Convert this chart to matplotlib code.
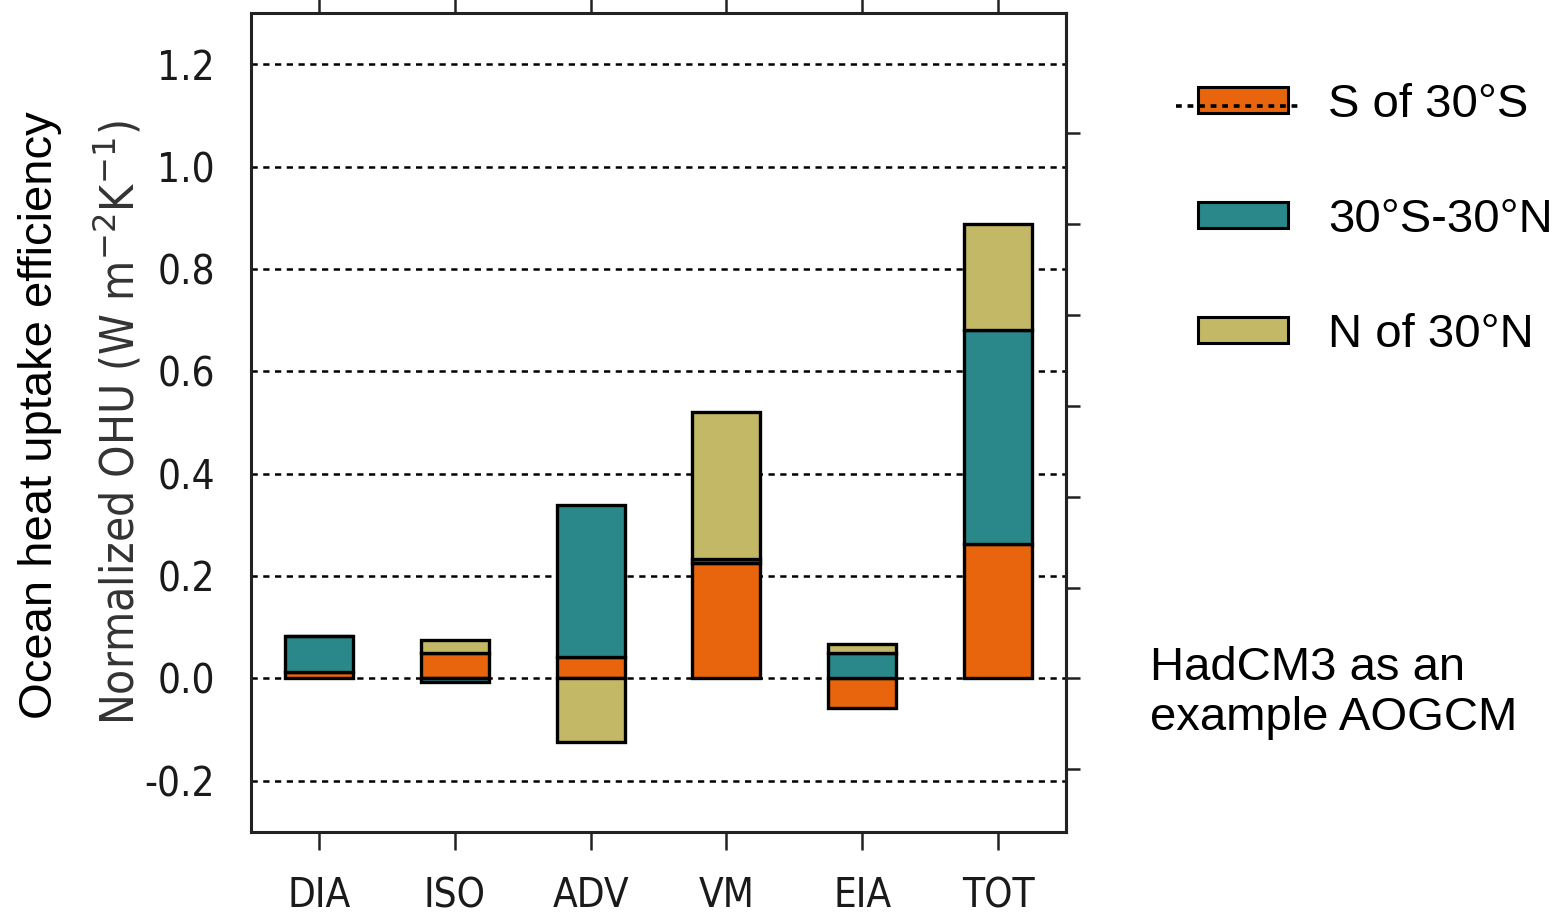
import matplotlib
matplotlib.use("Agg")
import matplotlib.pyplot as plt
import numpy as np
from matplotlib import font_manager
from matplotlib.font_manager import FontProperties
from matplotlib.patches import Patch, Rectangle
from matplotlib.lines import Line2D
from matplotlib.legend_handler import HandlerBase

# Normalized ocean heat uptake by process, split by latitude band
categories = ["DIA", "ISO", "ADV", "VM", "EIA", "TOT"]
south_of_30s = [0.012, 0.050, 0.042, 0.226, -0.057, 0.262]
band_30s_30n = [0.070, -0.007, 0.296, 0.008, 0.049, 0.419]
north_of_30n = [0.000, 0.025, -0.125, 0.287, 0.019, 0.207]

series_labels = ["S of 30°S", "30°S-30°N", "N of 30°N"]
series_colors = ["#E8650D", "#2A878A", "#C2B866"]

ytick_values = [-0.2, 0.0, 0.2, 0.4, 0.6, 0.8, 1.0, 1.2]
ytick_labels = ["-0.2", "0.0", "0.2", "0.4", "0.6", "0.8", "1.0", "1.2"]


def find_condensed():
    """Pick an installed condensed/narrow sans face, if there is one."""
    best = None
    for f in font_manager.fontManager.ttflist:
        st = f.stretch
        if isinstance(st, str):
            cond = st in ("condensed", "semi-condensed", "extra-condensed")
        else:
            cond = st < 500
        name_hit = any(k in f.name for k in ("Narrow", "Condensed"))
        if (cond or name_hit) and f.style == "normal" and "Mono" not in f.name \
                and "Serif" not in f.name:
            w = f.weight if isinstance(f.weight, int) else 400
            if best is None or abs(w - 400) < abs(best[1] - 400):
                best = (f.fname, w)
    return best[0] if best else None


installed = {f.name for f in font_manager.fontManager.ttflist}
regular = "Liberation Sans" if "Liberation Sans" in installed else "DejaVu Sans"
cond_path = find_condensed()
if cond_path:
    tick_fp = FontProperties(fname=cond_path, size=29)
    lab_fp = FontProperties(fname=cond_path, size=33)
else:
    tick_fp = FontProperties(family=regular, size=26)
    lab_fp = FontProperties(family=regular, size=29)


class BoxWithLine(HandlerBase):
    """Legend key: filled box crossed by a dashed line that overhangs it."""

    def create_artists(self, legend, orig_handle, xdescent, ydescent,
                       width, height, fontsize, trans):
        rect = Rectangle((-xdescent, -ydescent), width, height,
                         facecolor=orig_handle.get_facecolor(),
                         edgecolor="black", linewidth=2.2, transform=trans)
        y = -ydescent + height * 0.3
        line = Line2D([-xdescent - 0.25 * width, -xdescent + 1.12 * width], [y, y],
                      color="black", linestyle=(0, (1.6, 1.6)), linewidth=2.6,
                      transform=trans)
        return [rect, line]


fig = plt.figure(figsize=(15.6, 9.14), dpi=100)
ax = fig.add_axes([251 / 1560, 1 - 832 / 914, (1066 - 251) / 1560, (832 - 13) / 914])

x = np.arange(1, len(categories) + 1)
pos = np.zeros(len(categories))
neg = np.zeros(len(categories))
for vals, color in zip([south_of_30s, band_30s_30n, north_of_30n], series_colors):
    vals = np.asarray(vals)
    bottom = np.where(vals >= 0, pos, neg)
    ax.bar(x, vals, width=0.5, bottom=bottom, color=color,
           edgecolor="black", linewidth=2.4, zorder=3)
    pos += np.clip(vals, 0, None)
    neg += np.clip(vals, None, 0)

ax.set_xlim(0.5, 6.5)
ax.set_ylim(-0.3, 1.3)
ax.set_yticks(ytick_values)
ax.set_yticklabels(ytick_labels, fontproperties=tick_fp, color="#1a1a1a")
ax.set_xticks(x)
ax.set_xticklabels(categories, fontproperties=tick_fp, color="#1a1a1a")

ax.set_axisbelow(True)
ax.yaxis.grid(True, linestyle=(0, (2.5, 2.2)), linewidth=1.8, color="black")

ax.tick_params(axis="y", left=True, length=0, pad=26)
ax.tick_params(axis="x", bottom=True, top=True, direction="out",
               length=13, width=1.8, color="#222222", pad=19)
for sp in ax.spines.values():
    sp.set_linewidth(2.2)
    sp.set_color("#222222")

# unlabeled right-hand scale
sec = ax.secondary_yaxis("right", functions=(lambda y: y * 1.126, lambda y: y / 1.126))
sec.set_yticks(ytick_values)
sec.tick_params(length=10, width=1.8, direction="out", labelright=False, color="#222222")
sec.spines["right"].set_linewidth(2.2)

ax.set_ylabel("Normalized OHU (W m$^{-2}$K$^{-1}$)", fontproperties=lab_fp,
              color="#333333", labelpad=1)

fig.text(40 / 1560, 1 - 415 / 914, "Ocean heat uptake efficiency",
         rotation=90, ha="center", va="center", family=regular, fontsize=34)

fig.text(1150 / 1560, 1 - 693 / 914, "HadCM3 as an\nexample AOGCM",
         ha="left", va="center", family=regular, fontsize=34, linespacing=1.2)

handles = [Patch(facecolor=c, edgecolor="black", linewidth=2.2) for c in series_colors]
fig.legend(handles, series_labels, loc="center left",
           bbox_to_anchor=(1198 / 1560, 1 - 220 / 914),
           frameon=False, prop={"family": regular, "size": 34},
           handlelength=1.9, handleheight=0.47, handletextpad=0.85,
           labelspacing=1.5, borderpad=0, borderaxespad=0,
           handler_map={handles[0]: BoxWithLine()})

fig.savefig("out.png", dpi=100)
